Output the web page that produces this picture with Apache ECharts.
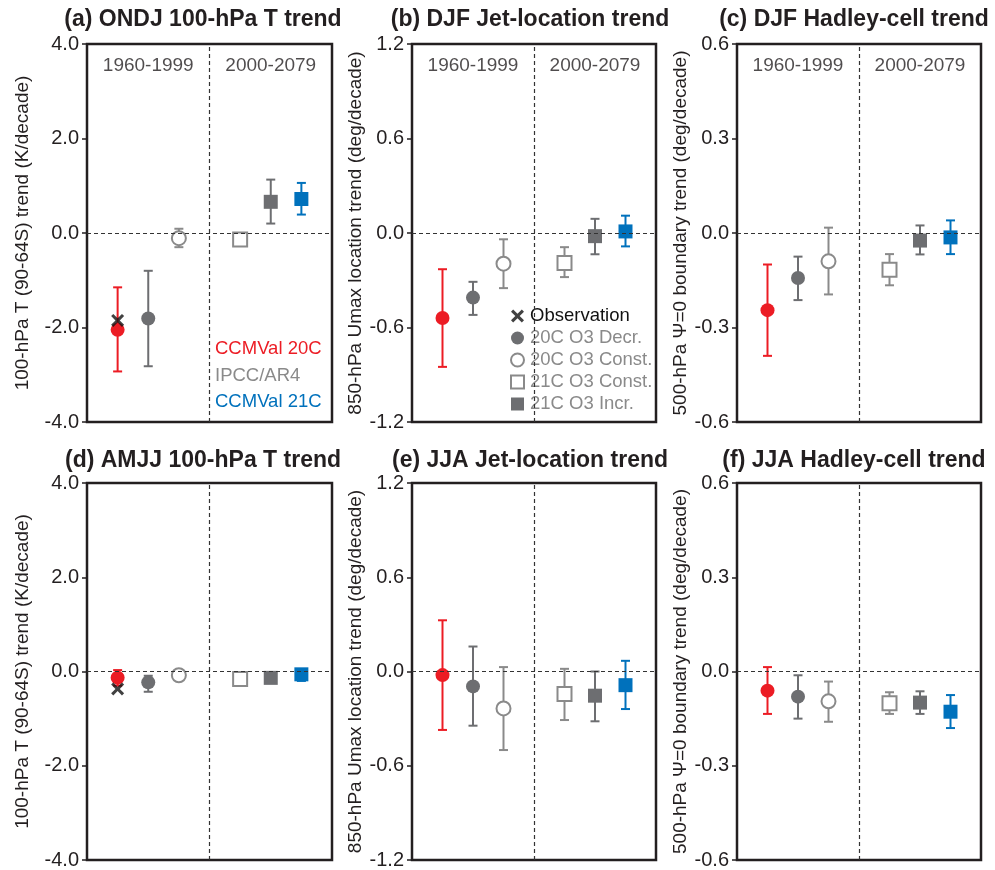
<!DOCTYPE html>
<html>
<head>
<meta charset="utf-8">
<script src="https://cdn.jsdelivr.net/npm/echarts@6/dist/echarts.min.js"></script>
<style>
  html, body { margin: 0; padding: 0; background: #fff; }
  #chart { width: 995px; height: 870px; }
</style>
</head>
<body>
<div id="chart"></div>
<script>
// x slots of the six markers, period divider sits at 4
const xPos = [1, 2, 3, 5, 6, 7];
const periods = ["1960-1999", "2000-2079"];
const panelTitles = [
  "(a) ONDJ 100-hPa T trend",
  "(b) DJF Jet-location trend",
  "(c) DJF Hadley-cell trend",
  "(d) AMJJ 100-hPa T trend",
  "(e) JJA Jet-location trend",
  "(f) JJA Hadley-cell trend",
];
const yNames = [
  "100-hPa T (90-64S) trend (K/decade)",
  "850-hPa Umax location trend (deg/decade)",
  "500-hPa Ψ=0 boundary trend (deg/decade)",
  "100-hPa T (90-64S) trend (K/decade)",
  "850-hPa Umax location trend (deg/decade)",
  "500-hPa Ψ=0 boundary trend (deg/decade)",
];
const yMax = [4, 1.2, 0.6, 4, 1.2, 0.6];

// marker order: CCMVal 20C, 20C O3 Decr., 20C O3 Const., 21C O3 Const., 21C O3 Incr., CCMVal 21C
const aMid = [-2.05, -1.81, -0.11, -0.14, 0.66, 0.72];
const aLow = [-2.93, -2.82, -0.3, -0.14, 0.2, 0.39];
const aHigh = [-1.15, -0.8, 0.09, -0.14, 1.13, 1.06];
const bMid = [-0.54, -0.41, -0.195, -0.19, -0.02, 0.01];
const bLow = [-0.85, -0.52, -0.35, -0.28, -0.135, -0.085];
const bHigh = [-0.23, -0.31, -0.04, -0.09, 0.09, 0.11];
const cMid = [-0.245, -0.143, -0.09, -0.117, -0.024, -0.014];
const cLow = [-0.39, -0.213, -0.195, -0.166, -0.068, -0.067];
const cHigh = [-0.1, -0.075, 0.017, -0.067, 0.024, 0.04];
const dMid = [-0.13, -0.23, -0.08, -0.16, -0.135, -0.06];
const dLow = [-0.3, -0.43, -0.08, -0.16, -0.135, -0.2];
const dHigh = [0.03, -0.09, -0.08, -0.16, -0.135, 0.0];
const eMid = [-0.023, -0.095, -0.235, -0.144, -0.154, -0.087];
const eLow = [-0.372, -0.345, -0.5, -0.309, -0.317, -0.239];
const eHigh = [0.326, 0.159, 0.028, 0.017, 0.0, 0.068];
const fMid = [-0.061, -0.08, -0.095, -0.101, -0.099, -0.128];
const fLow = [-0.135, -0.15, -0.16, -0.135, -0.135, -0.18];
const fHigh = [0.014, -0.012, -0.032, -0.066, -0.063, -0.075];
// observed trend (only a and d)
const obsTrend = [-1.85, null, null, -0.37, null, null];

const mids = [aMid, bMid, cMid, dMid, eMid, fMid];
const lows = [aLow, bLow, cLow, dLow, eLow, fLow];
const highs = [aHigh, bHigh, cHigh, dHigh, eHigh, fHigh];

const RED = "#ec1c24";
const BLUE = "#0071bc";
const GRAY = "#6d6e71";
const LGRAY = "#8a8a8a";
const INK = "#231f20";
const FONT = "'Liberation Sans', Arial, Helvetica, sans-serif";
const X_PATH = "path://M2,0L6,4L10,0L12,2L8,6L12,10L10,12L6,8L2,12L0,10L4,6L0,2Z";

const markers = [
  { name: "CCMVal 20C", symbol: "circle", fill: RED, border: RED, bar: RED },
  { name: "20C O3 Decr.", symbol: "circle", fill: GRAY, border: GRAY, bar: GRAY },
  { name: "20C O3 Const.", symbol: "circle", fill: "#fff", border: LGRAY, bar: LGRAY },
  { name: "21C O3 Const.", symbol: "rect", fill: "#fff", border: LGRAY, bar: LGRAY },
  { name: "21C O3 Incr.", symbol: "rect", fill: GRAY, border: GRAY, bar: GRAY },
  { name: "CCMVal 21C", symbol: "rect", fill: BLUE, border: BLUE, bar: BLUE },
];

const gridLeft = [87, 412, 737];
const gridWidth = [245, 244, 244];
const gridTop = [44, 483];
const titleX = [203, 530, 854];
const titleY = [20, 461];

const chart = echarts.init(document.getElementById("chart"));

const grid = [], xAxis = [], yAxis = [], series = [], graphic = [];

for (let p = 0; p < 6; p++) {
  const col = p % 3, row = Math.floor(p / 3);
  grid.push({
    left: gridLeft[col], top: gridTop[row], width: gridWidth[col], height: 378,
    show: true, borderColor: INK, borderWidth: 2.5, backgroundColor: "transparent",
  });
  xAxis.push({ gridIndex: p, type: "value", min: 0, max: 8, show: false });
  yAxis.push({
    gridIndex: p, type: "value", min: -yMax[p], max: yMax[p], interval: yMax[p] / 2,
    name: yNames[p], nameLocation: "middle", nameGap: col === 0 ? 55 : 45,
    nameTextStyle: { fontFamily: FONT, fontSize: 19, color: INK },
    axisLine: { show: false },
    axisTick: { show: true, length: 5, lineStyle: { color: INK, width: 1.5 } },
    splitLine: { show: false },
    axisLabel: {
      fontFamily: FONT, fontSize: 20, color: INK, margin: 8,
      formatter: (v) => v.toFixed(1),
    },
  });

  // error bars + dashed zero / period lines
  series.push({
    type: "custom", xAxisIndex: p, yAxisIndex: p, z: 2,
    encode: { x: 0, y: [1, 2] },
    data: xPos.map((x, i) => ({
      value: [x, lows[p][i], highs[p][i]],
      itemStyle: { color: markers[i].bar },
    })),
    renderItem: (params, api) => {
      const top = api.coord([api.value(0), api.value(2)]);
      const bot = api.coord([api.value(0), api.value(1)]);
      const w = 4.5;
      const style = { stroke: api.visual("color"), lineWidth: 2 };
      return {
        type: "group",
        children: [
          { type: "line", shape: { x1: top[0], y1: top[1], x2: bot[0], y2: bot[1] }, style },
          { type: "line", shape: { x1: top[0] - w, y1: top[1], x2: top[0] + w, y2: top[1] }, style },
          { type: "line", shape: { x1: bot[0] - w, y1: bot[1], x2: bot[0] + w, y2: bot[1] }, style },
        ],
      };
    },
    markLine: {
      silent: true, symbol: ["none", "none"], label: { show: false },
      lineStyle: { type: [4, 3], color: "#333", width: 1.2 },
      data: [{ yAxis: 0 }, { xAxis: 4 }],
    },
  });

  markers.forEach((m, i) => {
    series.push({
      type: "scatter", name: m.name, xAxisIndex: p, yAxisIndex: p, z: 3,
      symbol: m.symbol, symbolSize: 14,
      itemStyle: { color: m.fill, borderColor: m.border, borderWidth: m.fill === "#fff" ? 2 : 0, opacity: 1 },
      data: [[xPos[i], mids[p][i]]],
    });
  });

  if (obsTrend[p] !== null) {
    series.push({
      type: "scatter", name: "Observation", xAxisIndex: p, yAxisIndex: p, z: 4,
      symbol: X_PATH, symbolSize: 13, itemStyle: { color: "#111" },
      data: [[1, obsTrend[p]]],
    });
  }

  if (row === 0) {
    series.push({
      type: "scatter", xAxisIndex: p, yAxisIndex: p, symbolSize: 0, silent: true,
      label: {
        show: true, position: "inside", fontFamily: FONT, fontSize: 19, color: INK,
        formatter: (d) => periods[d.dataIndex],
      },
      data: [[2, yMax[p] * 0.885], [6, yMax[p] * 0.885]],
    });
  }

  graphic.push({
    type: "text", x: titleX[col], y: titleY[row],
    style: {
      text: panelTitles[p], fontFamily: FONT, fontSize: 23, fontWeight: "bold",
      fill: INK, textAlign: "center", textVerticalAlign: "middle",
    },
  });
}

// colour key of panel (a)
[["CCMVal 20C", RED], ["IPCC/AR4", LGRAY], ["CCMVal 21C", BLUE]].forEach((t, i) => {
  graphic.push({
    type: "text", x: 215, y: 349 + i * 26.5,
    style: { text: t[0], fontFamily: FONT, fontSize: 18.5, fill: t[1], textVerticalAlign: "middle" },
  });
});

const option = {
  animation: false,
  backgroundColor: "#fff",
  grid, xAxis, yAxis, series, graphic,
  legend: {
    orient: "vertical", left: 505, top: 300, itemWidth: 13, itemHeight: 13, itemGap: 0,
    selectedMode: false,
    textStyle: { fontFamily: FONT, fontSize: 18.5, color: LGRAY, lineHeight: 22, padding: [0, 0, 0, 1] },
    data: [
      { name: "Observation", icon: X_PATH, itemStyle: { color: "#111" }, textStyle: { color: "#111" } },
      { name: "20C O3 Decr.", icon: "circle", itemStyle: { color: GRAY, borderWidth: 0 } },
      { name: "20C O3 Const.", icon: "circle", itemStyle: { color: "#fff", borderColor: LGRAY, borderWidth: 2 } },
      { name: "21C O3 Const.", icon: "rect", itemStyle: { color: "#fff", borderColor: LGRAY, borderWidth: 2 } },
      { name: "21C O3 Incr.", icon: "rect", itemStyle: { color: GRAY, borderWidth: 0 } },
    ],
  },
};

chart.setOption(option);
</script>
</body>
</html>
